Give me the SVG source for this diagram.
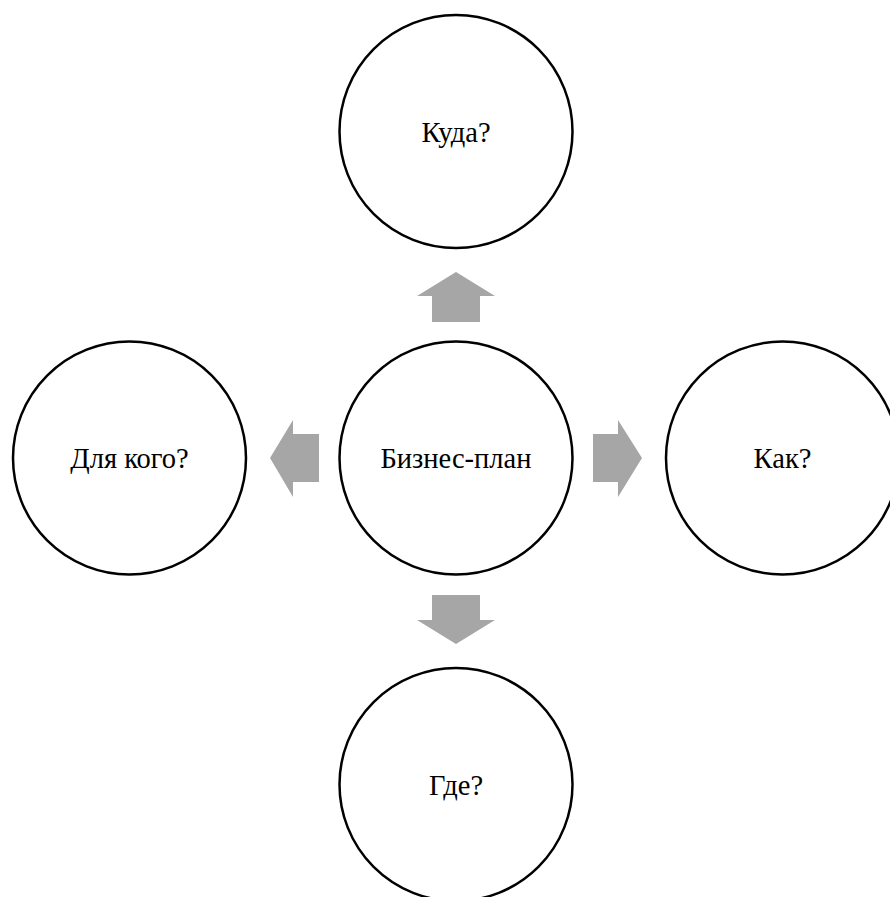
<svg xmlns="http://www.w3.org/2000/svg" width="890" height="897" viewBox="0 0 890 897">
<style>
.node circle{fill:#fff;stroke:#000;stroke-width:2.5}
.node text{font-family:"Liberation Serif","Times New Roman",serif;font-size:28.5px;fill:#000;text-anchor:middle}
.arrow{fill:#A6A6A6}
</style>
<rect width="890" height="897" fill="#fff"/>
<g id="connectors">
<polygon class="arrow" points="456,272 495,296 480,296 480,322 432,322 432,296 417,296"/>
<polygon class="arrow" points="456,644 495,620 480,620 480,595 432,595 432,620 417,620"/>
<polygon class="arrow" points="270,458 293,420 293,434 319,434 319,482 293,482 293,497"/>
<polygon class="arrow" points="642,458 618,420 618,434 593,434 593,482 618,482 618,497"/>
</g>
<g id="center" class="node"><circle cx="456" cy="458" r="116.5"/><text x="456" y="468">Бизнес-план</text></g>
<g id="top" class="node"><circle cx="456" cy="131.5" r="116.5"/><text x="456" y="141.5">Куда?</text></g>
<g id="left" class="node"><circle cx="129.5" cy="458" r="116.5"/><text x="129.5" y="468">Для кого?</text></g>
<g id="right" class="node"><circle cx="782.5" cy="458" r="116.5"/><text x="782.5" y="468">Как?</text></g>
<g id="bottom" class="node"><circle cx="456" cy="784.5" r="116.5"/><text x="456" y="794.5">Где?</text></g>
</svg>
